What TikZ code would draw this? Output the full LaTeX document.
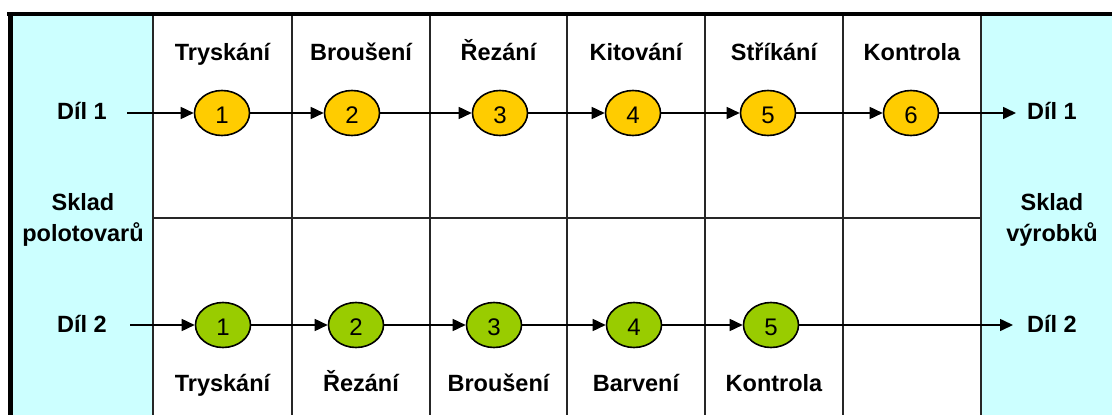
\documentclass[tikz,border=0pt]{standalone}
\usepackage{fontspec}
\setmainfont{Liberation Sans}
\usetikzlibrary{arrows.meta,shapes.geometric}
\definecolor{skladcyan}{HTML}{CCFFFF}
\definecolor{opyellow}{HTML}{FFCC00}
\definecolor{opgreen}{HTML}{99CC00}
\tikzset{
  lbl/.style={font=\bfseries\fontsize{23.5}{32}\selectfont, inner sep=0pt, anchor=base},
  opnode/.style={ellipse, draw=black, line width=1.6pt, minimum width=55pt, minimum height=45pt, inner sep=0pt,
     font=\fontsize{24}{24}\selectfont, text depth=0pt},
  op1/.style={opnode, fill=opyellow},
  op2/.style={opnode, fill=opgreen},
  flow/.style={line width=1.6pt, -{Triangle[length=13pt,width=12pt]}},
  grid/.style={line width=1.3pt, draw=black!85},
}
\begin{document}
\begin{tikzpicture}[x=1pt,y=-1pt]
\useasboundingbox (0,0) rectangle (1112,415);
% panels
\fill[skladcyan] (10,14) rectangle (153,415);
\fill[skladcyan] (981,14) rectangle (1112,415);
% grid lines
\foreach \x in {153,292,430,567,705,843,981}
  \draw[grid] (\x,15) -- (\x,415);
\draw[grid] (153,218) -- (981,218);
% frame
\draw[line width=4pt] (7,14) -- (1112,14);
\draw[line width=5pt] (10,12) -- (10,415);
% headers
\node[lbl] (h1) at (222.5,60) {Tryskání};
\node[lbl] (h2) at (361,60) {Broušení};
\node[lbl] (h3) at (498.5,60) {Řezání};
\node[lbl] (h4) at (636,60) {Kitování};
\node[lbl] (h5) at (774,60) {Stříkání};
\node[lbl] (h6) at (912,60) {Kontrola};
% bottom labels
\node[lbl] (f1) at (222.5,391) {Tryskání};
\node[lbl] (f2) at (361,391) {Řezání};
\node[lbl] (f3) at (498.5,391) {Broušení};
\node[lbl] (f4) at (636,391) {Barvení};
\node[lbl] (f5) at (774,391) {Kontrola};
% side labels
\node[lbl] (l1) at (82,119) {Díl 1};
\node[lbl] (l2) at (82,332) {Díl 2};
\node[lbl] (ls1) at (83,210) {Sklad};
\node[lbl] (ls2) at (83,241) {polotovarů};
\node[lbl] (r1) at (1052,119) {Díl 1};
\node[lbl] (r2) at (1052,332) {Díl 2};
\node[lbl] (rs1) at (1052,210) {Sklad};
\node[lbl] (rs2) at (1052,241) {výrobků};
% operations row 1
\node[op1] (a1) at (222,113) {\raisebox{-5pt}{1}};
\node[op1] (a2) at (352,113) {\raisebox{-5pt}{2}};
\node[op1] (a3) at (500,113) {\raisebox{-5pt}{3}};
\node[op1] (a4) at (633,113) {\raisebox{-5pt}{4}};
\node[op1] (a5) at (768,113) {\raisebox{-5pt}{5}};
\node[op1] (a6) at (911,113) {\raisebox{-5pt}{6}};
% operations row 2
\node[op2] (b1) at (223,325) {\raisebox{-5pt}{1}};
\node[op2] (b2) at (356,325) {\raisebox{-5pt}{2}};
\node[op2] (b3) at (494,325) {\raisebox{-5pt}{3}};
\node[op2] (b4) at (634,325) {\raisebox{-5pt}{4}};
\node[op2] (b5) at (771,325) {\raisebox{-5pt}{5}};
% connector ends
\coordinate (s1) at (127,113);
\coordinate (e1) at (1016,113);
\coordinate (s2) at (130,325);
\coordinate (e2) at (1013,325);
% flows
\draw[flow] (s1) -- (a1);
\draw[flow] (a1) -- (a2);
\draw[flow] (a2) -- (a3);
\draw[flow] (a3) -- (a4);
\draw[flow] (a4) -- (a5);
\draw[flow] (a5) -- (a6);
\draw[flow] (a6) -- (e1);
\draw[flow] (s2) -- (b1);
\draw[flow] (b1) -- (b2);
\draw[flow] (b2) -- (b3);
\draw[flow] (b3) -- (b4);
\draw[flow] (b4) -- (b5);
\draw[flow] (b5) -- (e2);
\end{tikzpicture}
\end{document}
